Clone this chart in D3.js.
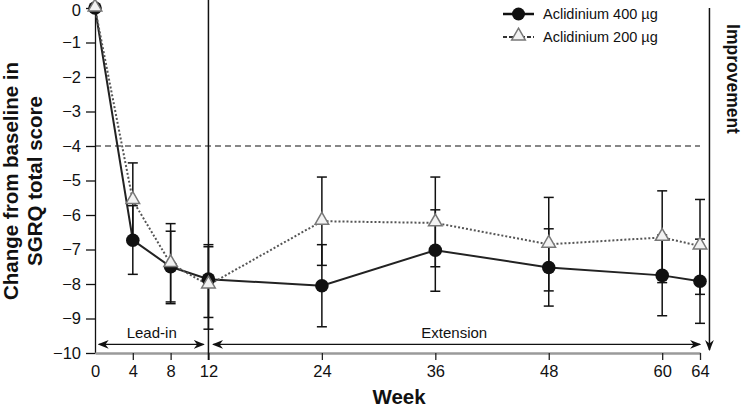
<!DOCTYPE html>
<html>
<head>
<meta charset="utf-8">
<style>
    body { margin: 0; background: #fff; }
    svg { font-family: 'Liberation Sans', Arial, sans-serif; }
    .axis text { font-size: 16.5px; fill: #111; }
    .y .tick line { stroke: #111; stroke-width: 1.3; }
    .y .domain { stroke: #111; stroke-width: 1.3; }
    .x .tick line { stroke: #222; stroke-width: 1.3; }
    .x .domain { stroke: #9a9a9a; stroke-width: 2.5; }
    .title { font-weight: bold; fill: #111; }
    .legend text { font-size: 14.5px; fill: #111; }
    .note { font-size: 15px; fill: #111; }
</style>
</head>
<body>
<svg width="748" height="410"></svg>
<script src="https://cdn.jsdelivr.net/npm/d3@7"></script>
<script>
// data
const weeks = [0, 4, 8, 12, 24, 36, 48, 60, 64];
const mean400 = [0, -6.73, -7.5, -7.86, -8.05, -7.02, -7.52, -7.75, -7.92];
const upper400 = [null, -5.73, -6.47, -6.92, -6.86, -5.85, -6.4, -6.58, -6.7];
const lower400 = [null, -7.72, -8.52, -8.97, -9.24, -8.21, -8.64, -8.92, -9.14];
const mean200 = [0, -5.58, -7.41, -8.03, -6.18, -6.23, -6.85, -6.65, -6.9];
const upper200 = [null, -4.49, -6.25, -6.86, -4.9, -4.9, -5.49, -5.3, -5.55];
const lower200 = [null, -6.68, -8.57, -9.31, -7.46, -7.5, -8.2, -7.96, -8.3];
const yTicks = [0, -1, -2, -3, -4, -5, -6, -7, -8, -9, -10];
const xTicks = [0, 4, 8, 12, 24, 36, 48, 60, 64];
const mcid = -4;
const seriesNames = ["Aclidinium 400 \u00b5g", "Aclidinium 200 \u00b5g"];

const svg = d3.select("svg");

const x = d3.scaleLinear().domain([0, 64]).range([95, 700]);
const y = d3.scaleLinear().domain([0, -10]).range([8, 353]);

// arrow marker
const defs = svg.append("defs");
defs.append("marker")
    .attr("id", "arr")
    .attr("viewBox", "0 0 10 10")
    .attr("refX", 9).attr("refY", 5)
    .attr("markerWidth", 11).attr("markerHeight", 11)
    .attr("markerUnits", "userSpaceOnUse")
    .attr("orient", "auto-start-reverse")
    .append("path")
    .attr("d", "M0,1 L10,5 L0,9 L3,5 Z")
    .attr("fill", "#111");

// axes
svg.append("g")
    .attr("class", "y axis")
    .attr("transform", `translate(${x(0)},0)`)
    .call(d3.axisLeft(y).tickValues(yTicks).tickSize(9).tickPadding(5).tickSizeOuter(0).tickFormat(d3.format("d")))
    // keep the top label inside the picture
    .call(g => g.selectAll(".tick").filter(d => d === 0).select("text").attr("dy", "0.45em"));

svg.append("g")
    .attr("class", "x axis")
    .attr("transform", `translate(0,${y(-10)})`)
    .call(d3.axisBottom(x).tickValues(xTicks).tickSize(7).tickPadding(5).tickSizeOuter(0))
    .call(g => g.selectAll(".tick").filter(d => d === 0).select("line").remove());

// reference lines
svg.append("line")
    .attr("x1", x(0)).attr("x2", x(64))
    .attr("y1", y(mcid)).attr("y2", y(mcid))
    .attr("stroke", "#111").attr("stroke-width", 1.2)
    .attr("stroke-dasharray", "6,4");

svg.append("line")
    .attr("x1", x(12)).attr("x2", x(12))
    .attr("y1", 0).attr("y2", y(-10) + 7)
    .attr("stroke", "#111").attr("stroke-width", 1.5);

// improvement arrow
svg.append("line")
    .attr("x1", x(65)).attr("x2", x(65))
    .attr("y1", y(0)).attr("y2", y(-10) - 3)
    .attr("stroke", "#111").attr("stroke-width", 1.5)
    .attr("marker-end", "url(#arr)");

svg.append("text")
    .attr("class", "title")
    .attr("transform", `translate(727,79) rotate(90)`)
    .attr("text-anchor", "middle")
    .style("font-size", "17.5px")
    .text("Improvement");

// phase arrows
const arrowY = y(-9.75);
svg.append("line")
    .attr("x1", x(0.4)).attr("x2", x(11.5))
    .attr("y1", arrowY).attr("y2", arrowY)
    .attr("stroke", "#111").attr("stroke-width", 1.3)
    .attr("marker-start", "url(#arr)").attr("marker-end", "url(#arr)");
svg.append("line")
    .attr("x1", x(12.5)).attr("x2", x(64))
    .attr("y1", arrowY).attr("y2", arrowY)
    .attr("stroke", "#111").attr("stroke-width", 1.3)
    .attr("marker-start", "url(#arr)").attr("marker-end", "url(#arr)");

svg.append("text").attr("class", "note")
    .attr("x", x(6)).attr("y", y(-9.57))
    .attr("text-anchor", "middle").text("Lead-in");
svg.append("text").attr("class", "note")
    .attr("x", x(38)).attr("y", y(-9.57))
    .attr("text-anchor", "middle").text("Extension");

// series
const d400 = weeks.map((w, i) => ({ w: w, v: mean400[i], hi: upper400[i], lo: lower400[i] }));
const d200 = weeks.map((w, i) => ({ w: w, v: mean200[i], hi: upper200[i], lo: lower200[i] }));

const line = d3.line().x(d => x(d.w)).y(d => y(d.v));

svg.append("path").datum(d400)
    .attr("d", line).attr("fill", "none")
    .attr("stroke", "#222").attr("stroke-width", 2);

svg.append("path").datum(d200)
    .attr("d", line).attr("fill", "none")
    .attr("stroke", "#555").attr("stroke-width", 2)
    .attr("stroke-dasharray", "2,2");

// error bars
function errorBars(data) {
    const g = svg.append("g").attr("stroke", "#111").attr("stroke-width", 1.5);
    const withErr = data.filter(d => d.hi !== null);
    g.selectAll(".stem").data(withErr).join("line")
        .attr("x1", d => x(d.w)).attr("x2", d => x(d.w))
        .attr("y1", d => y(d.hi)).attr("y2", d => y(d.lo));
    g.selectAll(".capHi").data(withErr).join("line")
        .attr("x1", d => x(d.w) - 5).attr("x2", d => x(d.w) + 5)
        .attr("y1", d => y(d.hi)).attr("y2", d => y(d.hi));
    g.selectAll(".capLo").data(withErr).join("line")
        .attr("x1", d => x(d.w) - 5).attr("x2", d => x(d.w) + 5)
        .attr("y1", d => y(d.lo)).attr("y2", d => y(d.lo));
}
errorBars(d400);
errorBars(d200);

const tri = d3.symbol().type(d3.symbolTriangle).size(80);

svg.append("g").selectAll("circle").data(d400).join("circle")
    .attr("cx", d => x(d.w)).attr("cy", d => y(d.v))
    .attr("r", 6.8).attr("fill", "#111");

svg.append("g").selectAll("path").data(d200).join("path")
    .attr("d", tri)
    .attr("transform", d => `translate(${x(d.w)},${y(d.v) - 1})`)
    .attr("fill", "#f2f2f2").attr("stroke", "#777").attr("stroke-width", 1.5);

// legend
const legend = svg.append("g").attr("class", "legend");
legend.append("line").attr("x1", 503).attr("x2", 534).attr("y1", 14).attr("y2", 14)
    .attr("stroke", "#111").attr("stroke-width", 2.5);
legend.append("circle").attr("cx", 518.5).attr("cy", 14).attr("r", 6.5).attr("fill", "#111");
legend.append("text").attr("x", 543).attr("y", 19).text(seriesNames[0]);

legend.append("line").attr("x1", 503).attr("x2", 534).attr("y1", 37).attr("y2", 37)
    .attr("stroke", "#333").attr("stroke-width", 2).attr("stroke-dasharray", "4,2");
legend.append("path").attr("d", tri)
    .attr("transform", "translate(518.5,36)")
    .attr("fill", "#f2f2f2").attr("stroke", "#777").attr("stroke-width", 1.5);
legend.append("text").attr("x", 543).attr("y", 42).text(seriesNames[1]);

// axis titles
svg.append("text")
    .attr("class", "title")
    .attr("transform", "translate(18,181) rotate(-90)")
    .attr("text-anchor", "middle")
    .style("font-size", "20.5px")
    .text("Change from baseline in");
svg.append("text")
    .attr("class", "title")
    .attr("transform", "translate(42,181) rotate(-90)")
    .attr("text-anchor", "middle")
    .style("font-size", "20.5px")
    .text("SGRQ total score");

svg.append("text")
    .attr("class", "title")
    .attr("x", 399).attr("y", 404)
    .attr("text-anchor", "middle")
    .style("font-size", "20.5px")
    .text("Week");
</script>
</body>
</html>
